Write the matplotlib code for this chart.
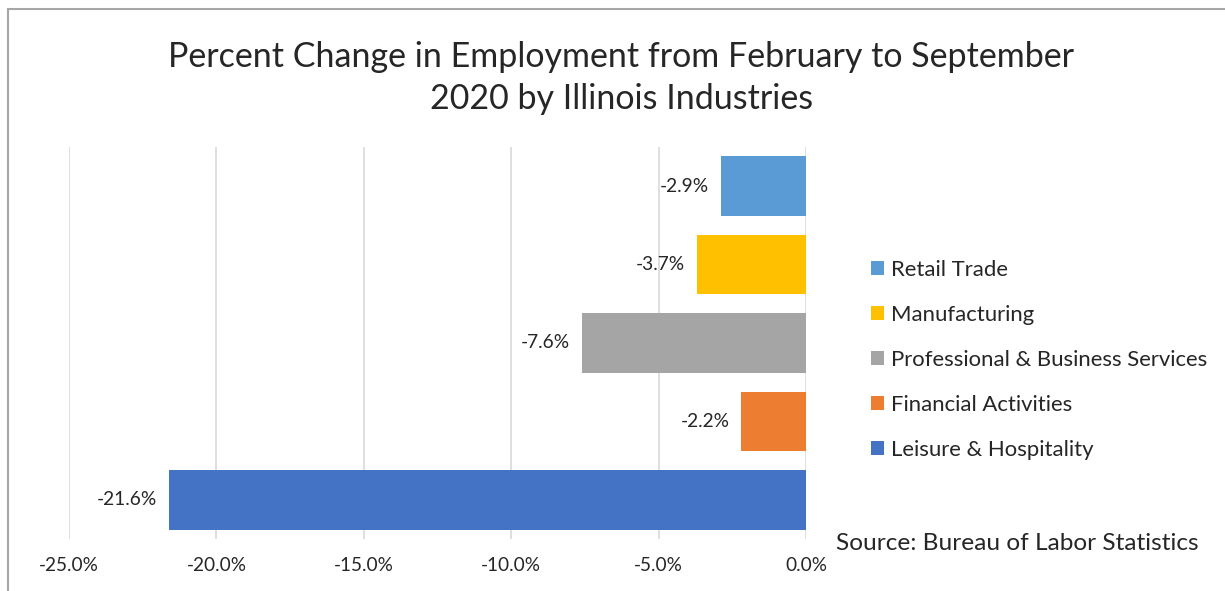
import matplotlib.pyplot as plt
from matplotlib.patches import Rectangle

# data (bottom to top as drawn)
industries = ['Leisure & Hospitality', 'Financial Activities',
              'Professional & Business Services', 'Manufacturing', 'Retail Trade']
change = [-21.6, -2.2, -7.6, -3.7, -2.9]
colors = ['#4472C4', '#ED7D31', '#A5A5A5', '#FFC000', '#5B9BD5']
xticks = [-25, -20, -15, -10, -5, 0]

plt.rcParams['font.family'] = ['Lato', 'DejaVu Sans']
txt = '#262626'

fig = plt.figure(figsize=(12.25, 5.91), dpi=100)
ax = fig.add_axes([69/1225, 52/591, 737/1225, 392/591])

handles = []
for i, (name, v, c) in enumerate(zip(industries, change, colors)):
    h = ax.barh(i, v, height=0.76, color=c, label=name, zorder=2)
    handles.append(h)
    ax.text(v - 0.4, i, '%.1f%%' % v, ha='right', va='center',
            fontsize=13.8, color=txt)

ax.set_xlim(-25, 0)
ax.set_ylim(-0.5, 4.5)
ax.set_xticks(xticks)
ax.set_xticklabels(['%.1f%%' % t for t in xticks], fontsize=13.7, color=txt)
ax.set_yticks([])
ax.tick_params(axis='x', length=0, pad=13)
ax.grid(axis='x', color='#D9D9D9', linewidth=1.2, zorder=0)
for s in ax.spines.values():
    s.set_visible(False)

fig.text(0.507, 0.868, 'Percent Change in Employment from February to September\n2020 by Illinois Industries',
         ha='center', va='center', fontsize=24.5, color=txt, linespacing=1.35)

leg = fig.legend(handles[::-1], industries[::-1], loc='upper left',
                 bbox_to_anchor=(851/1225, 1 - 240/591), frameon=False,
                 fontsize=15.9, handlelength=0.6, handleheight=0.6,
                 handletextpad=0.3, labelspacing=1.13)
for t in leg.get_texts():
    t.set_color(txt)

fig.text(836/1225, 1 - 543/591, 'Source: Bureau of Labor Statistics',
         ha='left', va='center', fontsize=17.6, color=txt)

# outer chart border
fig.patches.append(Rectangle((8/1225, -0.2), 1.3, 1 - 9/591 + 0.2,
                             transform=fig.transFigure, fill=False,
                             edgecolor='#A6A6A6', linewidth=1.5))

fig.savefig('out.png', dpi=100)
